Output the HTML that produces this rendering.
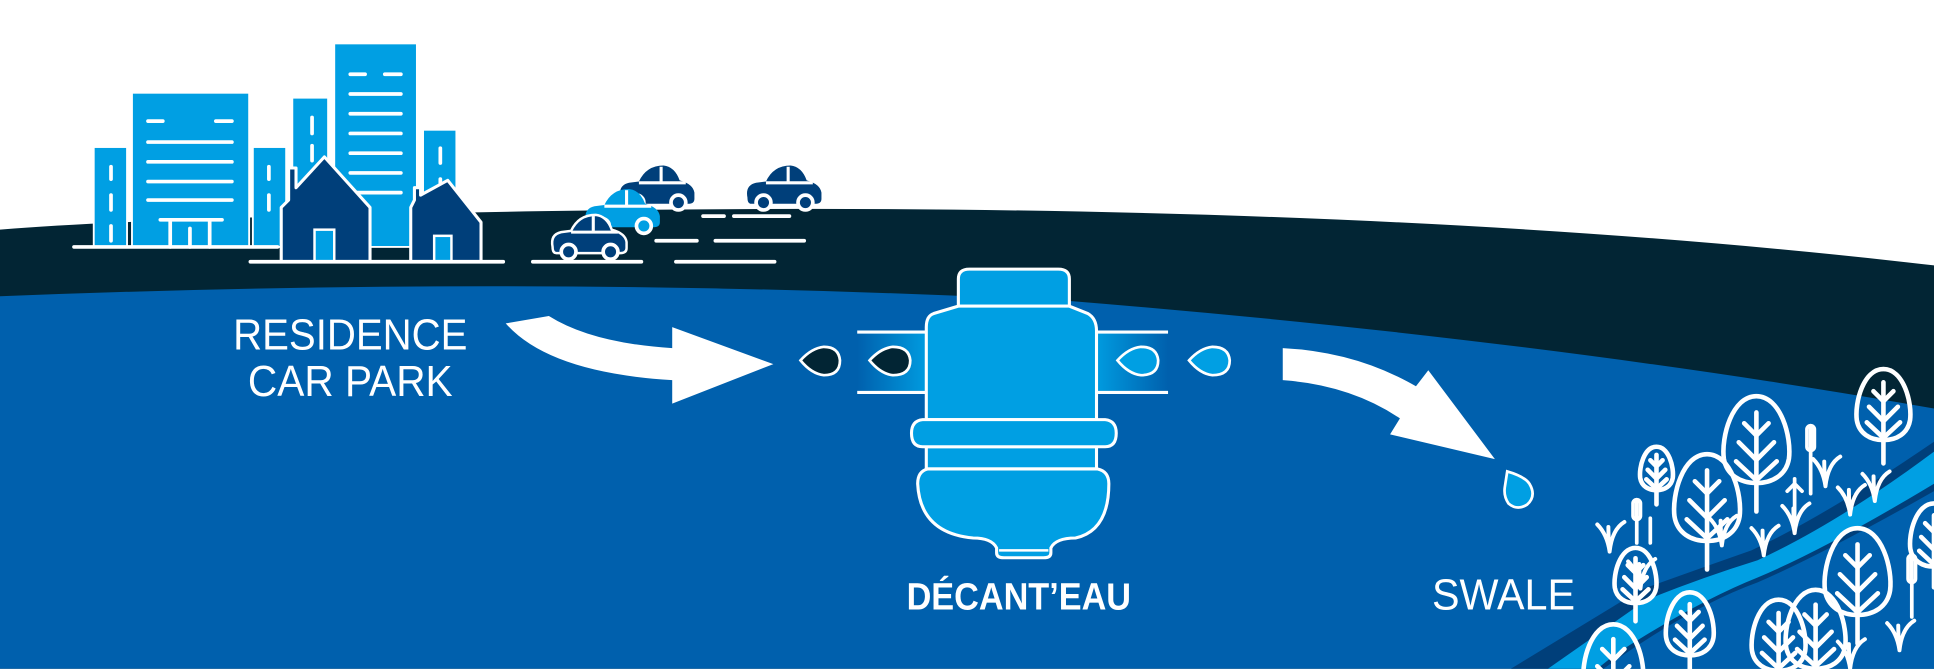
<!DOCTYPE html>
<html><head><meta charset="utf-8"><style>
html,body{margin:0;padding:0;background:#fff;width:1934px;height:669px;overflow:hidden}
svg{display:block}
text{font-family:"Liberation Sans",sans-serif}
</style></head><body>
<svg width="1934" height="669" viewBox="0 0 1568 542" xmlns="http://www.w3.org/2000/svg">
<defs>
<g id="car">
<path d="M3,22 Q1,12 10,10 L18,9 Q24,-4 38,-4 Q47,-3 51,8 Q62,11 63,18 L63,23 Q63,27 58,27 L6,27 Q3,27 3,22 Z"/>
<circle cx="16" cy="26" r="6" stroke="#fff" stroke-width="3"/>
<circle cx="50" cy="26" r="6" stroke="#fff" stroke-width="3"/>
<line x1="36" y1="-3" x2="36" y2="9" stroke="#fff" stroke-width="2.5"/>
<line x1="18" y1="10" x2="56" y2="10" stroke="#fff" stroke-width="2.5"/>
</g>
<g id="tree" stroke="#fff" stroke-width="4.6" stroke-linecap="round" fill="none">
<path vector-effect="non-scaling-stroke" d="M0,-40 C18,-40 26,-10 24,6 C22,18 12,24 0,24 C-12,24 -22,18 -24,6 C-26,-10 -18,-40 0,-40 Z"/>
<line vector-effect="non-scaling-stroke" x1="0" y1="-28" x2="0" y2="45"/>
<polyline vector-effect="non-scaling-stroke" points="-9,-20 0,-11 9,-20"/>
<polyline vector-effect="non-scaling-stroke" points="-13,-6 0,7 13,-6"/>
<polyline vector-effect="non-scaling-stroke" points="-15,8 0,22 15,8"/>
</g>
<g id="grass" stroke="#fff" stroke-width="3.2" stroke-linecap="round" fill="none">
<path d="M0,22 Q-2,8 -10,0 M0,22 Q2,4 12,-2 M0,22 Q-1,10 -1,2"/>
</g>
<linearGradient id="gl" x1="0" x2="1"><stop offset="0" stop-color="#0060ad"/><stop offset="1" stop-color="#009fe3"/></linearGradient>
<linearGradient id="gr" x1="1" x2="0"><stop offset="0" stop-color="#0060ad"/><stop offset="1" stop-color="#009fe3"/></linearGradient>
</defs>
<rect width="1568" height="542" fill="#fff"/>
<path d="M0,186 Q120,176 440,171 Q1100,160 1568,215 L1568,542 L0,542 Z" fill="#022534"/>
<path d="M0,240 Q450,222 870,244 Q1250,275 1568,331 L1568,542 L0,542 Z" fill="#0060ad"/>
<path d="M1225,542 L1330,478 Q1380,460 1420,446 Q1480,418 1568,358 L1568,398 Q1480,448 1425,472 Q1370,492 1300,542 Z" fill="#003f7a"/>
<path d="M1255,542 L1335,486 Q1380,468 1425,454 Q1490,424 1568,366 L1568,392 Q1480,445 1425,468 Q1375,488 1310,530 L1295,542 Z" fill="#009fe3"/>
<path d="M1300,542 Q1375,494 1425,476 Q1490,452 1568,400 L1568,542 Z" fill="#0060ad"/>
<g fill="#009fe3" stroke="#fff" stroke-width="1.5">
<rect x="76" y="119" width="27" height="81"/>
<rect x="107" y="75" width="95" height="125"/>
<rect x="205" y="119" width="27" height="81"/>
<rect x="237" y="79" width="29" height="121"/>
<rect x="271" y="35" width="67" height="165"/>
<rect x="343" y="105" width="27" height="80"/>
</g>
<g stroke="#fff" stroke-width="3" stroke-linecap="round">
<line x1="120" y1="98" x2="132" y2="98"/><line x1="175" y1="98" x2="188" y2="98"/>
<line x1="120" y1="115" x2="188" y2="115"/><line x1="120" y1="131" x2="188" y2="131"/>
<line x1="120" y1="147" x2="188" y2="147"/><line x1="120" y1="162" x2="188" y2="162"/>
<line x1="130" y1="178" x2="180" y2="178"/>
<line x1="138" y1="178" x2="138" y2="200"/><line x1="170" y1="178" x2="170" y2="200"/><line x1="154" y1="185" x2="154" y2="200"/>
<line x1="284" y1="60" x2="296" y2="60"/><line x1="312" y1="60" x2="325" y2="60"/>
<line x1="284" y1="76" x2="325" y2="76"/><line x1="284" y1="92" x2="325" y2="92"/>
<line x1="284" y1="108" x2="325" y2="108"/><line x1="284" y1="124" x2="325" y2="124"/>
<line x1="284" y1="140" x2="325" y2="140"/><line x1="284" y1="156" x2="325" y2="156"/>
<line x1="90" y1="135" x2="90" y2="145"/><line x1="90" y1="158" x2="90" y2="170"/><line x1="90" y1="183" x2="90" y2="195"/>
<line x1="218" y1="135" x2="218" y2="145"/><line x1="218" y1="158" x2="218" y2="170"/>
<line x1="253" y1="95" x2="253" y2="108"/><line x1="253" y1="118" x2="253" y2="130"/>
<line x1="357" y1="120" x2="357" y2="132"/><line x1="357" y1="145" x2="357" y2="155"/>
<line x1="60" y1="200" x2="225" y2="200"/>
</g>
<g fill="#003f7a" stroke="#fff" stroke-width="2.5" stroke-linejoin="round">
<path d="M228,212 L228,168 L234,162 L234,136 L240,136 L240,152 L263,127 L300,168 L300,212 Z"/>
<path d="M333,212 L333,168 L336,162 L336,152 L341,152 L341,158 L363,146 L390,180 L390,212 Z"/>
</g>
<rect x="255" y="186" width="16" height="26" fill="#009fe3" stroke="#fff" stroke-width="2"/>
<rect x="352" y="191" width="14" height="21" fill="#009fe3" stroke="#fff" stroke-width="2"/>
<line x1="203" y1="212" x2="408" y2="212" stroke="#fff" stroke-width="3" stroke-linecap="round"/>
<use href="#car" x="500" y="138" fill="#003f7a"/>
<use href="#car" x="603" y="138" fill="#003f7a"/>
<use href="#car" x="472" y="157" fill="#009fe3"/>
<use href="#car" x="445" y="178" fill="#003f7a" stroke="#fff" stroke-width="2"/>
<g stroke="#fff" stroke-width="3" stroke-linecap="round">
<line x1="570" y1="175" x2="587" y2="175"/><line x1="595" y1="175" x2="640" y2="175"/>
<line x1="532" y1="195" x2="565" y2="195"/><line x1="580" y1="195" x2="652" y2="195"/>
<line x1="432" y1="212" x2="520" y2="212"/><line x1="548" y1="212" x2="628" y2="212"/>
</g>
<path d="M410,262 L445,256 Q480,278 545,282 L545,265 L627,295 L545,327 L545,308 Q445,302 410,262 Z" fill="#fff"/>
<rect x="695" y="270" width="60" height="48" fill="url(#gl)"/>
<rect x="885" y="270" width="62" height="48" fill="url(#gr)"/>
<g stroke="#fff" stroke-width="2.5">
<line x1="695" y1="269" x2="755" y2="269"/><line x1="695" y1="318" x2="755" y2="318"/>
<line x1="885" y1="269" x2="947" y2="269"/><line x1="885" y1="318" x2="947" y2="318"/>
</g>
<g stroke="#fff" stroke-width="2.2">
<path d="M649,292 Q658,282 668,281 Q680,281 681,292 Q681,304 668,304 Q658,303 649,292 Z" fill="#022534"/>
<path d="M705,292 Q714,282 724,281 Q737,281 738,292 Q738,304 724,304 Q714,303 705,292 Z" fill="#022534"/>
<path d="M906,292 Q915,282 925,281 Q938,281 939,292 Q939,304 925,304 Q915,303 906,292 Z" fill="#009fe3"/>
<path d="M964,292 Q973,282 983,281 Q996,281 997,292 Q997,304 983,304 Q973,303 964,292 Z" fill="#009fe3"/>
<path d="M1222,382 Q1236,386 1240,392 Q1246,402 1238,409 Q1230,414 1223,408 Q1219,402 1220,395 Z" fill="#009fe3"/>
</g>
<g fill="#009fe3" stroke="#fff" stroke-width="2.5" stroke-linejoin="round">
<path d="M777,248 L777,226 Q777,218 786,218 L858,218 Q867,218 867,226 L867,248 Z"/>
<path d="M751,340 L751,265 Q751,256 757,254 L777,248 L867,248 L882,254 Q889,258 889,268 L889,340 Z"/>
<path d="M751,362 L751,380 L889,380 L889,362 Z"/>
<path d="M748,340 L896,340 Q905,341 905,351 Q905,362 896,362 L748,362 Q739,362 739,351 Q739,341 748,340 Z"/>
<path d="M752,380 L890,380 Q899,382 899,392 Q899,430 872,436 Q856,436 852,444 L852,448 Q852,452 846,452 L814,452 Q808,452 808,448 L808,444 Q804,436 789,436 Q746,432 744,392 Q744,382 752,380 Z"/>
</g>
<line x1="810" y1="446" x2="850" y2="446" stroke="#fff" stroke-width="2"/>
<path d="M1040,282 Q1100,285 1148,313 L1158,300 L1212,372 L1127,352 L1135,339 Q1095,312 1040,308 Z" fill="#fff"/>
<g fill="#fff" font-size="35" text-anchor="middle">
<text x="284" y="283" textLength="190" lengthAdjust="spacingAndGlyphs">RESIDENCE</text>
<text x="284" y="321" textLength="166" lengthAdjust="spacingAndGlyphs">CAR PARK</text>
<text x="1219" y="494" textLength="116" lengthAdjust="spacingAndGlyphs">SWALE</text>
<text x="826" y="494" font-weight="bold" font-size="31" textLength="182" lengthAdjust="spacingAndGlyphs">DÉCANT’EAU</text>
</g>
<use href="#grass" transform="translate(1480,372)"/>
<use href="#grass" transform="translate(1500,395)"/>
<use href="#grass" transform="translate(1520,384)"/>
<use href="#grass" transform="translate(1455,410)"/>
<use href="#grass" transform="translate(1430,428)"/>
<use href="#grass" transform="translate(1305,425)"/>
<use href="#grass" transform="translate(1330,455)"/>
<use href="#grass" transform="translate(1396,420)"/>
<use href="#grass" transform="translate(1500,520)"/>
<use href="#grass" transform="translate(1540,505)"/>
<use href="#tree" transform="translate(1343,384) scale(0.55)" fill="#009fe3"/>
<use href="#tree" transform="translate(1424,365) scale(1.1)"/>
<use href="#tree" transform="translate(1384,412) scale(1.1)" fill="#009fe3"/>
<use href="#tree" transform="translate(1527,335) scale(0.9)" fill="#009fe3"/>
<use href="#tree" transform="translate(1326,472) scale(0.7)" fill="#009fe3"/>
<use href="#tree" transform="translate(1506,472) scale(1.1)" fill="#009fe3"/>
<use href="#tree" transform="translate(1568,440) scale(0.8)" fill="#009fe3"/>
<use href="#tree" transform="translate(1370,512) scale(0.8)"/>
<use href="#tree" transform="translate(1442,522) scale(0.9)" fill="#009fe3"/>
<use href="#tree" transform="translate(1472,518) scale(1.0)"/>
<use href="#tree" transform="translate(1308,546) scale(1.0)" fill="#009fe3"/>
<g stroke="#fff" stroke-width="3" stroke-linecap="round" fill="none">
<line x1="1468" y1="345" x2="1468" y2="400"/><rect x="1465" y="345" width="6" height="20" rx="3"/>
<line x1="1327" y1="405" x2="1327" y2="440"/><rect x="1324" y="405" width="6" height="16" rx="3"/>
<line x1="1338" y1="420" x2="1338" y2="440"/>
<line x1="1550" y1="450" x2="1550" y2="500"/><rect x="1547" y="450" width="6" height="22" rx="3"/>
<line x1="1455" y1="388" x2="1455" y2="420"/><polyline points="1449,398 1455,392 1461,398"/>
</g>
</svg>
</body></html>
